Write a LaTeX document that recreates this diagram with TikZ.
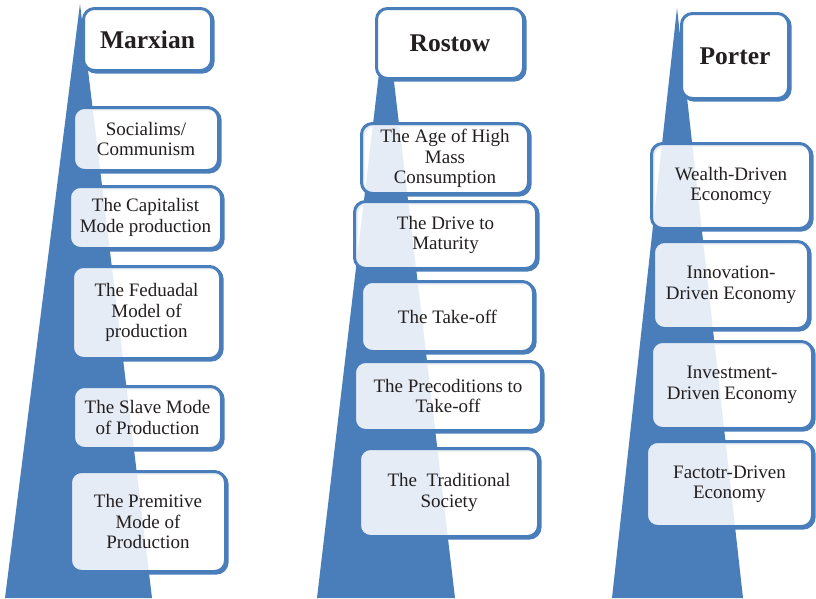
\documentclass[tikz,border=0pt]{standalone}
\usepackage{fontspec}
\setmainfont{Liberation Serif}
\newfontfamily\stagefont{Liberation Serif}
\definecolor{stageblue}{RGB}{74,126,187}
\definecolor{inkdark}{RGB}{35,31,32}
\tikzset{
  pyramid/.style={fill=stageblue, draw=none},
  stagebox/.style={rectangle, rounded corners=11pt, draw=stageblue, line width=3pt,
    fill=white, fill opacity=0.86, text opacity=1, text=inkdark, align=center,
    font=\stagefont\fontsize{19}{20.5}\selectfont, inner sep=2pt,
    preaction={draw=stageblue, line width=3pt, fill opacity=1,
      transform canvas={shift={(1.6pt,-1.6pt)}}}},
  headbox/.style={stagebox, fill opacity=1, font=\stagefont\fontsize{25.5}{28}\selectfont\bfseries}
}
% \stagebox[style]{name}{x1}{y1}{x2}{y2}{text}: box by its outer corners
\newcommand\stagebox[7][stagebox]{%
  \node[#1, minimum width={(#5-#3-3)*1pt}, minimum height={(#6-#4-3)*1pt}]
    (#2) at ({(#3+#5)/2},{(#4+#6)/2}) {#7};}
\begin{document}
\begin{tikzpicture}[x=1pt,y=-1pt]
\useasboundingbox (0,0) rectangle (816,598);
\fill[white] (0,0) rectangle (816,598);

% tapering spines behind each column
\fill[pyramid] (80,4) -- (152,598) -- (5,598) -- cycle;
\fill[pyramid] (386,14) -- (455,598) -- (317,598) -- cycle;
\fill[pyramid] (677,8) -- (743,598) -- (612,598) -- cycle;

% Marxian stages
\stagebox[headbox]{m0}{82}{7}{213}{72}{Marxian}
\stagebox{m1}{72}{106}{220}{172}{Socialims/\\Communism}
\stagebox{m2}{68}{185}{223}{250}{The Capitalist\\Mode production}
\stagebox{m3}{71}{265}{222}{360}{The Feduadal\\Model of\\production}
\stagebox{m4}{72}{385}{223}{450}{The Slave Mode\\of Production}
\stagebox{m5}{69}{470}{227}{573}{The Premitive\\Mode of\\Production}

% Rostow stages
\stagebox[headbox]{r0}{375}{7}{525}{80}{Rostow}
\stagebox{r1}{360}{122}{530}{195}{The Age of High\\Mass\\Consumption}
\stagebox{r2}{353}{200}{538}{270}{The Drive to\\Maturity}
\stagebox{r3}{360}{280}{535}{353}{The Take-off}
\stagebox{r4}{353}{360}{543}{432}{The Precoditions to\\Take-off}
\stagebox{r5}{358}{447}{540}{538}{The\ \ Traditional\\Society}

% Porter stages
\stagebox[headbox]{p0}{680}{12}{790}{100}{Porter}
\stagebox{p1}{650}{142}{812}{230}{Wealth-Driven\\Economcy}
\stagebox{p2}{652}{240}{810}{330}{Innovation-\\Driven Economy}
\stagebox{p3}{650}{340}{814}{430}{Investment-\\Driven Economy}
\stagebox{p4}{645}{440}{814}{528}{Factotr-Driven\\Economy}
\end{tikzpicture}
\end{document}
